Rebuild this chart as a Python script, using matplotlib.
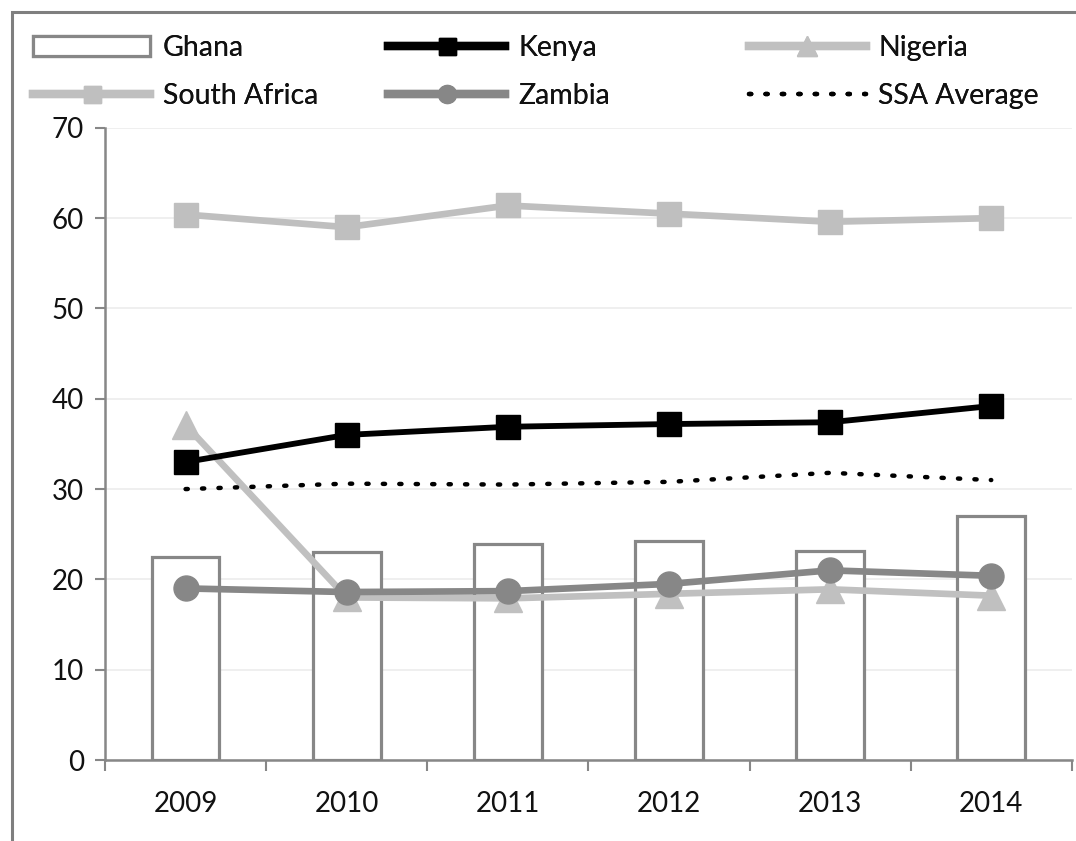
import matplotlib
matplotlib.use('Agg')
import matplotlib.pyplot as plt
from matplotlib.patches import Rectangle
import numpy as np

years = ['2009', '2010', '2011', '2012', '2013', '2014']
ghana = [22.5, 23.0, 23.9, 24.2, 23.1, 27.0]
kenya = [33.0, 36.0, 36.9, 37.2, 37.4, 39.2]
nigeria = [37.1, 18.0, 17.9, 18.4, 18.9, 18.2]
south_africa = [60.4, 59.0, 61.4, 60.5, 59.6, 60.0]
zambia = [19.0, 18.6, 18.7, 19.5, 21.0, 20.4]
ssa_avg = [30.0, 30.6, 30.5, 30.8, 31.8, 31.0]

plt.rcParams['font.family'] = ['Lato', 'DejaVu Sans']
plt.rcParams['text.color'] = '#111111'

fig = plt.figure(figsize=(10.76, 8.41), dpi=100)
ax = fig.add_axes([0.0976, 0.0963, 0.8985, 0.7517])

x = np.arange(len(years))
bars = ax.bar(x, ghana, width=0.42, facecolor='white', edgecolor='#878787',
              linewidth=2.3, zorder=2, label='Ghana')
l_ken, = ax.plot(x, kenya, color='black', lw=4.2, marker='s', ms=17, zorder=4, label='Kenya')
l_nig, = ax.plot(x, nigeria, color='#c0c0c0', lw=4.8, marker='^', ms=20, zorder=3, label='Nigeria')
l_sa, = ax.plot(x, south_africa, color='#bfbfbf', lw=4.8, marker='s', ms=17, zorder=3, label='South Africa')
l_zam, = ax.plot(x, zambia, color='#878787', lw=4.8, marker='o', ms=18, zorder=4, label='Zambia')
l_ssa, = ax.plot(x, ssa_avg, color='black', lw=3.2, linestyle=(0, (0.5, 3.2)),
                 dash_capstyle='round', zorder=4, label='SSA Average')

ax.set_xlim(-0.5, len(years) - 0.5)
ax.set_ylim(0, 70)
ax.set_yticks(range(0, 71, 10))
ax.yaxis.grid(True, color='#ececec', lw=1.2)
ax.set_axisbelow(True)

ax.set_xticks(x)
ax.set_xticklabels(years)
ax.set_xticks(np.arange(-0.5, len(years), 1), minor=True)
ax.tick_params(axis='x', which='major', length=0, pad=22, labelsize=20, labelcolor='#111111')
ax.tick_params(axis='x', which='minor', length=8, width=1.5, color='#878787', direction='out')
ax.tick_params(axis='y', length=7, width=1.5, color='#878787', labelsize=20, pad=8,
               labelcolor='#111111')

for s in ['top', 'right']:
    ax.spines[s].set_visible(False)
for s in ['left', 'bottom']:
    ax.spines[s].set_color('#878787')
    ax.spines[s].set_linewidth(1.8)

# legend, three columns placed like the original
cols = [([bars, l_sa], ['Ghana', 'South Africa'], 0.031),
        ([l_ken, l_zam], ['Kenya', 'Zambia'], 0.361),
        ([l_nig, l_ssa], ['Nigeria', 'SSA Average'], 0.696)]
for h, lab, xpos in cols:
    leg = fig.legend(h, lab, loc='upper left', bbox_to_anchor=(xpos, 0.958),
                     frameon=False, fontsize=20.5, handlelength=4.1, handletextpad=0.45,
                     labelspacing=0.75, borderaxespad=0, borderpad=0, markerscale=0.72)
    for ln in leg.get_lines():
        if ln.get_linestyle() == '-':
            ln.set_linewidth(6)
    fig.add_artist(leg)

# outer frame
fig.patches.append(Rectangle((0.011, -0.05), 1.2, 1.036, transform=fig.transFigure,
                             fill=False, edgecolor='#7f7f7f', lw=2.2))

fig.savefig('out.png', dpi=100)
